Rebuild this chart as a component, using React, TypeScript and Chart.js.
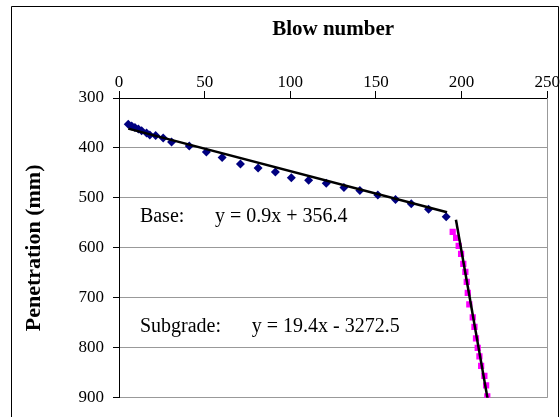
import React, { useEffect, useRef } from "react";
import { Chart, registerables } from "chart.js";

Chart.register(...registerables);

// Base layer (blue diamonds)
const baseBlows = [5.4, 7.4, 9.3, 11.3, 13.2, 16.1, 18, 21.4, 25.8, 30.7, 41, 51, 60.2, 70.9, 81.2, 91.3, 100.6, 110.7, 121, 131.3, 140.6, 151.1, 161.4, 170.6, 180.7, 191];
const basePen = [352.6, 356, 359, 362, 365.6, 370, 374, 375, 380, 388, 396, 408, 419, 432, 440, 448, 459.5, 464.7, 470.6, 479, 485, 494, 503, 511.6, 522.6, 537.7];

// Subgrade layer (magenta squares)
const subBlows = [194.8, 196.8, 198.3, 199.7, 201, 202.2, 203, 203.6, 204.5, 206.5, 207.5, 208.4, 209.4, 210.4, 211.4, 213.3, 214.3, 215];
const subPen = [568, 580, 596, 612, 632, 648, 668, 690, 713, 739, 758, 781, 800, 817, 836, 856, 875, 897];

// Trendline end points
const baseTrendX = [5.4, 191.5];
const baseTrendY = [361.3, 528.8];
const subTrendX = [196.7, 215.4];
const subTrendY = [543.5, 906.3];

// Axes
const xMin = 0, xMax = 250, xStep = 50;
const yMin = 300, yMax = 900, yStep = 100;

// Annotation texts and their anchors (data space)
const annLabels = ["Base:", "Subgrade:"];
const annEquations = ["y = 0.9x + 356.4", "y = 19.4x - 3272.5"];
const annLabelX = [12.2, 12.2];
const annEqX = [56, 77.5];
const annBaselineY = [549, 769];

const SERIF = '"Liberation Serif", "Times New Roman", serif';

const toPts = (xs: number[], ys: number[]) => xs.map((x, i) => ({ x, y: ys[i] }));

export default function App() {
  const ref = useRef<HTMLCanvasElement | null>(null);

  useEffect(() => {
    if (!ref.current) return;
    const framePlugin = {
      id: "frame",
      beforeDraw(chart: any) {
        const c = chart.ctx;
        c.save();
        c.fillStyle = "#ffffff";
        c.fillRect(0, 0, chart.width, chart.height);
        c.restore();
      },
      afterDraw(chart: any) {
        const c = chart.ctx;
        const a = chart.chartArea;
        const xs = chart.scales.x;
        const ys = chart.scales.y;
        c.save();
        // right plot border
        c.strokeStyle = "#999999";
        c.lineWidth = 1;
        c.beginPath();
        c.moveTo(Math.round(a.right) + 0.5, a.top);
        c.lineTo(Math.round(a.right) + 0.5, a.bottom);
        c.stroke();
        // outer chart frame
        c.strokeStyle = "#000000";
        c.beginPath();
        c.rect(11.5, 6.5, 547, 480);
        c.stroke();
        // annotations
        c.fillStyle = "#000000";
        c.font = `20px ${SERIF}`;
        c.textBaseline = "alphabetic";
        c.textAlign = "left";
        for (let i = 0; i < annLabels.length; i++) {
          const yb = ys.getPixelForValue(annBaselineY[i]);
          c.fillText(annLabels[i], xs.getPixelForValue(annLabelX[i]), yb);
          c.fillText(annEquations[i], xs.getPixelForValue(annEqX[i]), yb);
        }
        c.restore();
      },
    };

    const chart = new Chart(ref.current, {
      type: "scatter",
      data: {
        datasets: [
          {
            label: "Base trend",
            data: toPts(baseTrendX, baseTrendY),
            showLine: true,
            borderColor: "#000000",
            borderWidth: 2.5,
            pointRadius: 0,
          },
          {
            label: "Subgrade trend",
            data: toPts(subTrendX, subTrendY),
            showLine: true,
            borderColor: "#000000",
            borderWidth: 2.5,
            pointRadius: 0,
          },
          {
            label: "Base",
            data: toPts(baseBlows, basePen),
            pointStyle: "rectRot",
            pointRadius: 4.5,
            backgroundColor: "#000080",
            borderColor: "#000080",
            borderWidth: 0,
          },
          {
            label: "Subgrade",
            data: toPts(subBlows, subPen),
            pointStyle: "rect",
            pointRadius: 4.4,
            backgroundColor: "#ff00ff",
            borderColor: "#ff00ff",
            borderWidth: 0,
          },
        ],
      },
      options: {
        responsive: false,
        animation: false,
        devicePixelRatio: 1,
        layout: { padding: { left: 0, top: 0, right: 12, bottom: 11 } },
        plugins: {
          legend: { display: false },
          tooltip: { enabled: false },
        },
        scales: {
          x: {
            type: "linear",
            position: "top",
            min: xMin,
            max: xMax,
            ticks: {
              stepSize: xStep,
              color: "#000000",
              font: { family: SERIF, size: 17, lineHeight: 1 },
              padding: 0,
              maxRotation: 0,
            },
            grid: {
              drawOnChartArea: false,
              drawTicks: true,
              tickLength: 7,
              tickColor: "#000000",
            },
            border: { color: "#000000", width: 1 },
            title: {
              display: true,
              text: "Blow number",
              color: "#000000",
              font: { family: SERIF, size: 21, weight: "bold", lineHeight: 1.2 },
              padding: { top: 17, bottom: 0 },
            },
            afterFit: (s: any) => {
              s.height = 98;
            },
          },
          y: {
            type: "linear",
            reverse: true,
            min: yMin,
            max: yMax,
            ticks: {
              stepSize: yStep,
              color: "#000000",
              font: { family: SERIF, size: 17 },
              padding: 9,
            },
            grid: {
              color: (ctx: any) => (ctx.tick && ctx.tick.value === yMin ? "#000000" : "#999999"),
              tickLength: 6,
              tickColor: "#000000",
            },
            border: { color: "#000000", width: 1 },
            title: {
              display: true,
              text: "Penetration (mm)",
              color: "#000000",
              font: { family: SERIF, size: 22, weight: "bold", lineHeight: 1.2 },
              padding: { top: 21, bottom: 0 },
            },
            afterFit: (s: any) => {
              s.width = 119;
            },
          },
        },
      },
      plugins: [framePlugin],
    });
    return () => chart.destroy();
  }, []);

  return (
    <div style={{ position: "absolute", left: 0, top: 0, width: 560, height: 417 }}>
      <canvas ref={ref} width={560} height={417} style={{ display: "block" }} />
    </div>
  );
}
